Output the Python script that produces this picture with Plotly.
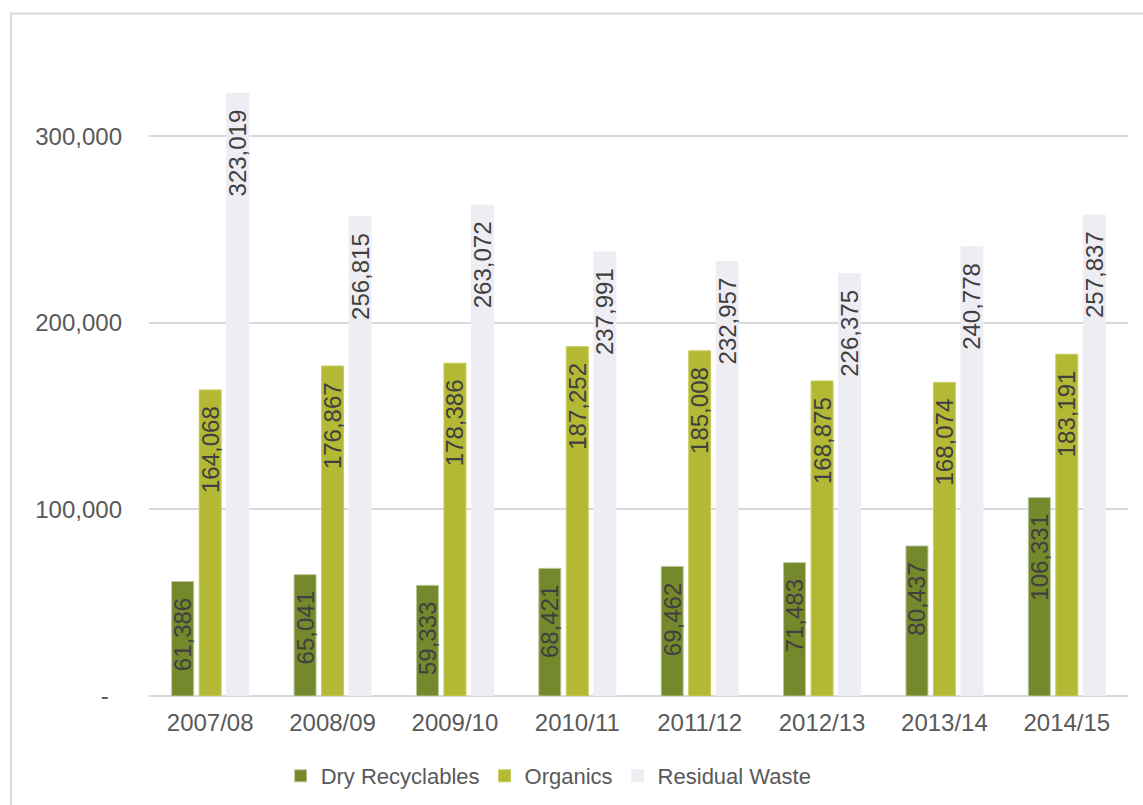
import plotly.graph_objects as go

# Waste tonnages by financial year
years = ["2007/08", "2008/09", "2009/10", "2010/11", "2011/12", "2012/13", "2013/14", "2014/15"]
dry_recyclables = [61386, 65041, 59333, 68421, 69462, 71483, 80437, 106331]
organics = [164068, 176867, 178386, 187252, 185008, 168875, 168074, 183191]
residual_waste = [323019, 256815, 263072, 237991, 232957, 226375, 240778, 257837]

tick_vals = [0, 100000, 200000, 300000]
tick_text = ["-\u00a0\u00a0", "100,000", "200,000", "300,000"]

FONT = "Liberation Sans, Arial, sans-serif"
GREY_TEXT = "#595959"
LABEL_TEXT = "#404040"
GRID = "#d9d9d9"

series = [
    ("Dry Recyclables", dry_recyclables, "#75882b", "#b9c79a"),
    ("Organics", organics, "#b4b935", "#c9cd5c"),
    ("Residual Waste", residual_waste, "#efedf4", "#efedf4"),
]

fig = go.Figure()
for name, vals, color, edge in series:
    fig.add_trace(go.Bar(
        name=name,
        x=years,
        y=vals,
        marker=dict(color=color, line=dict(color=edge, width=1)),
        text=vals,
        texttemplate="%{y:,}\u00a0\u00a0",
        textposition="inside",
        insidetextanchor="end",
        textangle=-90,
        constraintext="none",
        insidetextfont=dict(family=FONT, size=24, color=LABEL_TEXT),
        cliponaxis=False,
    ))

fig.update_layout(
    width=1143,
    height=805,
    margin=dict(l=149, r=15, t=42.5, b=109, pad=0),
    paper_bgcolor="white",
    plot_bgcolor="white",
    barmode="group",
    bargap=0.326,
    bargroupgap=0.2,
    font=dict(family=FONT, color=GREY_TEXT),
    showlegend=True,
    legend=dict(
        orientation="h",
        xref="container", yref="container",
        x=0.48, y=0.036,
        xanchor="center", yanchor="middle",
        font=dict(family=FONT, size=22, color=GREY_TEXT),
        itemwidth=30,
        tracegroupgap=0,
    ),
    xaxis=dict(
        showgrid=False,
        showline=False,
        ticks="",
        tickfont=dict(family=FONT, size=24, color=GREY_TEXT),
        ticklabelstandoff=10,
    ),
    yaxis=dict(
        range=[0, 350000],
        tickvals=tick_vals,
        ticktext=tick_text,
        showgrid=True,
        gridcolor=GRID,
        gridwidth=1.5,
        zeroline=True,
        zerolinecolor=GRID,
        zerolinewidth=2,
        showline=False,
        ticks="",
        tickfont=dict(family=FONT, size=24, color=GREY_TEXT),
        ticklabelstandoff=26,
    ),
    shapes=[dict(
        type="rect",
        xref="paper", yref="paper",
        x0=(11 - 149) / 979, x1=1.05,
        y0=-0.3, y1=(696 - 13) / 653.5,
        line=dict(color=GRID, width=2),
        fillcolor="rgba(0,0,0,0)",
        layer="below",
    )],
)

fig.write_html("out.html")
